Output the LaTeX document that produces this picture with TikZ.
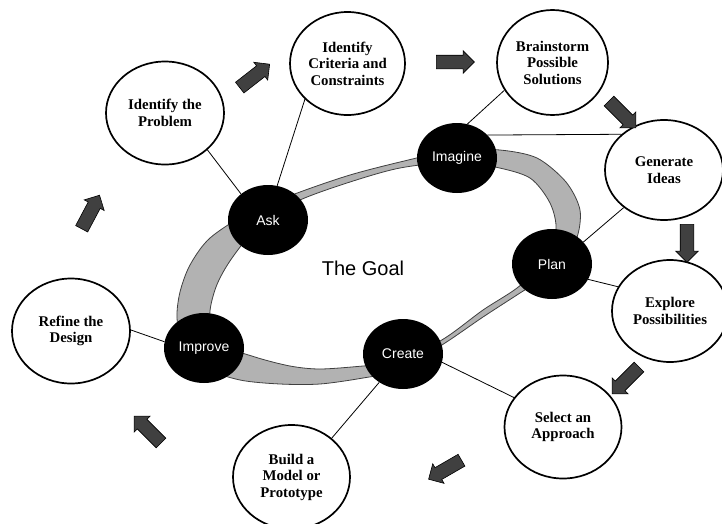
\documentclass[tikz,border=0pt]{standalone}
\usepackage{fontspec}
\setmainfont{Liberation Serif}
\newfontfamily\labsans{Liberation Sans}
\usetikzlibrary{shapes.geometric,shapes.arrows}

\begin{document}
\begin{tikzpicture}[x=1pt,y=-1pt,
  stage/.style={ellipse, draw=black, line width=1.7pt, fill=white, inner sep=0pt,
    align=center, font=\bfseries\fontsize{14.8}{16.5}\selectfont},
  phase/.style={ellipse, fill=black, inner sep=0pt, minimum width=80pt,
    minimum height=70pt, text=white, font=\labsans\fontsize{14}{16}\selectfont},
  link/.style={draw=black, line width=0.8pt},
  flow/.style={single arrow, draw=black, line width=0.6pt, fill=black!75,
    inner sep=6.5pt, single arrow head extend=4.5pt, minimum height=38pt},
  band/.style={fill=black!30, draw=black!75, line width=0.8pt, even odd rule}
]
\useasboundingbox (0,0) rectangle (722,523);

% ring
\path[band]
  plot[smooth cycle] coordinates {(177,318) (180,292) (190,265) (210,238) (250,212)
    (300,192) (350,175) (400,162) (455,150) (500,150) (537,158) (566,182) (580,210)
    (576,240) (555,270) (520,293) (483,317) (445,343) (400,370) (363,378) (320,384)
    (280,384) (240,380) (205,368) (183,345)}
  plot[smooth cycle] coordinates {(210,318) (216,287) (232,258) (262,222) (300,200)
    (350,182) (400,168) (455,162) (495,167) (530,178) (550,203) (556,230) (545,262)
    (517,288) (483,310) (445,338) (400,362) (363,366) (320,369) (290,366) (255,357)
    (225,345)};

% phases
\node[phase] (ask) at (268,220) {Ask};
\node[phase] (imagine) at (457,158) {Imagine};
\node[phase] (plan) at (552,264) {Plan};
\node[phase] (create) at (403,354) {Create};
\node[phase] (improve) at (204,348) {Improve};
\node[font=\labsans\fontsize{20}{24}\selectfont] (goal) at (363,268) {The Goal};

% steps
\node[stage, minimum width=118pt, minimum height=103pt] (problem) at (165,113) {Identify the\\Problem};
\node[stage, minimum width=115pt, minimum height=103pt] (criteria) at (347.5,63.5) {Identify\\Criteria and\\Constraints};
\node[stage, minimum width=111pt, minimum height=105pt] (brain) at (552.5,62.5) {Brainstorm\\Possible\\Solutions};
\node[stage, minimum width=118pt, minimum height=100pt] (generate) at (664,170) {Generate\\Ideas};
\node[stage, minimum width=116pt, minimum height=102pt] (explore) at (670,311) {Explore\\Possibilities};
\node[stage, minimum width=117pt, minimum height=103pt] (select) at (563,427) {Select an\\Approach};
\node[stage, minimum width=117pt, minimum height=104pt] (build) at (291.5,477) {Build a\\Model or\\Prototype};
\node[stage, minimum width=118pt, minimum height=105pt] (refine) at (71,331) {Refine the\\Design};

% connectors
\draw[link] (problem.-41) -- (ask.136);
\draw[link] (criteria.-140) -- (ask.75);
\draw[link] (brain.210) -- (imagine.73);
\draw[link] (imagine.37) -- (generate.140);
\draw[link] (generate.223) -- (plan.35);
\draw[link] (plan.-23) -- (explore.155);
\draw[link] (create.-12) -- (select.149);
\draw[link] (create.230) -- (build.44);
\draw[link] (refine.1) -- (improve.171);

% flow arrows
\node[flow, rotate=38] (a1) at (252,78) {};
\node[flow, rotate=0] (a2) at (452,62) {};
\node[flow, rotate=-45] (a3) at (620,112) {};
\node[flow, rotate=-90] (a4) at (687,240) {};
\node[flow, rotate=-135] (a5) at (628,378) {};
\node[flow, rotate=-150] (a6) at (448,468) {};
\node[flow, rotate=135] (a7) at (150,432) {};
\node[flow, rotate=62] (a8) at (89,215) {};
\end{tikzpicture}
\end{document}
